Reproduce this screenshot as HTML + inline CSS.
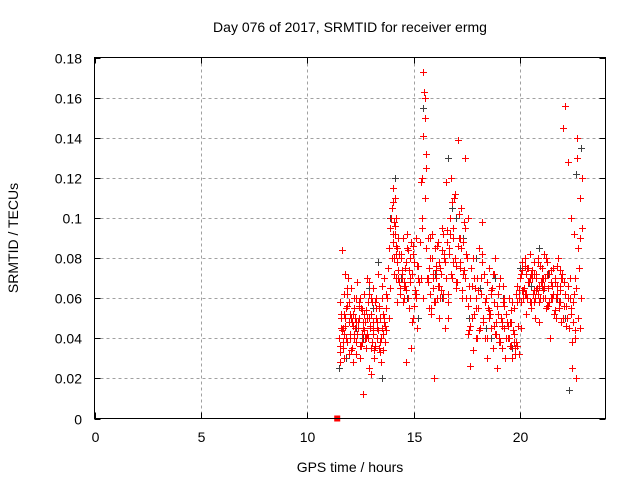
<!DOCTYPE html>
<html><head><meta charset="utf-8"><style>
html,body{margin:0;padding:0;background:#fff;}
svg{display:block;font-family:"Liberation Sans",sans-serif;}
</style></head><body>
<svg id="chart" width="640" height="480" viewBox="0 0 640 480">
<rect width="640" height="480" fill="#fff"/>
<g id="grid"></g>
<g id="blk"></g>
<g id="red"></g>
<rect x="94.5" y="57.5" width="511" height="361" fill="none" stroke="#000" stroke-width="1"/>
<g id="ticks"></g>
<text x="350" y="32" font-size="14" text-anchor="middle">Day 076 of 2017, SRMTID for receiver ermg</text>
<text x="350" y="472" font-size="14" text-anchor="middle">GPS time / hours</text>
<text transform="translate(18,238) rotate(-90)" font-size="14" text-anchor="middle">SRMTID / TECUs</text>
</svg>
<script>
const xTicks=[0,5,10,15,20];
const yTicks=[0,0.02,0.04,0.06,0.08,0.1,0.12,0.14,0.16,0.18];
const yTickLabels=["0","0.02","0.04","0.06","0.08","0.1","0.12","0.14","0.16","0.18"];
const redHours=[11.5,11.55,11.6,11.62,11.65,11.7,11.72,11.75,11.8,11.85,11.9,11.95,12.0,12.05,12.1,12.12,12.15,12.2,12.25,12.3,12.35,12.4,12.45,12.5,12.55,12.6,12.65,12.7,12.75,12.8,12.85,12.9,12.95,13.0,13.05,13.1,13.15,13.2,13.25,13.3,13.35,13.4,13.45,13.5,13.55,13.6,13.65,13.7,
11.52,11.58,11.68,11.78,11.88,11.98,12.08,12.18,12.28,12.38,12.48,12.58,12.68,12.78,12.88,12.98,13.08,13.18,13.28,13.38,13.48,13.58,13.68,
11.55,11.7,11.85,12.0,12.2,12.4,12.6,12.8,13.0,13.2,13.4,13.6,12.3,12.5,12.9,13.1,13.5,12.7,
13.75,13.8,13.85,13.9,13.95,14.0,14.02,14.05,14.08,14.1,14.12,14.15,14.18,14.2,14.22,14.25,14.28,14.3,13.82,13.88,13.92,13.98,14.03,14.07,14.13,14.17,14.23,14.27,
14.35,14.4,14.45,14.5,14.55,14.6,14.65,14.7,14.75,14.8,14.85,14.9,14.95,15.0,15.05,15.1,15.15,15.2,14.38,14.48,14.58,14.68,14.78,14.88,14.98,15.08,15.18,14.42,14.62,14.82,15.02,14.52,14.72,14.92,15.12,
15.3,15.35,15.38,15.4,15.42,15.45,15.48,15.5,15.52,15.55,15.58,15.6,15.35,15.4,15.45,15.5,15.55,
15.65,15.7,15.75,15.8,15.85,15.9,15.95,16.0,16.05,16.1,16.15,16.2,16.25,16.3,16.35,16.4,16.45,15.68,15.78,15.88,15.98,16.08,16.18,16.28,16.38,15.72,15.92,16.12,16.32,15.82,16.02,16.22,16.42,
16.5,16.55,16.6,16.65,16.7,16.75,16.8,16.85,16.9,16.95,17.0,17.05,17.1,17.15,17.2,17.25,17.3,17.35,17.4,17.45,16.52,16.62,16.72,16.82,16.92,17.02,17.12,17.22,17.32,17.42,16.58,16.78,16.98,17.18,17.38,
17.5,17.55,17.6,17.65,17.7,17.75,17.8,17.85,17.9,17.95,18.0,18.05,18.1,18.15,18.2,18.25,18.3,18.35,18.4,18.45,18.5,18.55,18.6,18.65,18.7,18.75,18.8,18.85,18.9,18.95,19.0,19.05,19.1,19.15,19.2,19.25,19.3,19.35,19.4,19.45,19.5,19.55,19.6,19.65,19.7,19.75,
17.52,17.62,17.72,17.82,17.92,18.02,18.12,18.22,18.32,18.42,18.52,18.62,18.72,18.82,18.92,19.02,19.12,19.22,19.32,19.42,19.52,19.62,19.72,17.58,17.78,17.98,18.18,18.38,18.58,18.78,18.98,19.18,19.38,19.58,
19.8,19.85,19.9,19.95,20.0,20.05,20.1,20.15,20.2,20.25,20.3,20.35,20.4,20.45,20.5,20.55,20.6,20.65,20.7,20.75,20.8,20.85,20.9,20.95,21.0,21.05,21.1,21.15,21.2,21.25,21.3,21.35,21.4,21.45,21.5,21.55,21.6,21.65,21.7,21.75,21.8,21.85,21.9,21.95,
19.82,19.92,20.02,20.12,20.22,20.32,20.42,20.52,20.62,20.72,20.82,20.92,21.02,21.12,21.22,21.32,21.42,21.52,21.62,21.72,21.82,21.92,20.08,20.28,20.48,20.68,20.88,21.08,21.28,21.48,21.68,21.88,
22.0,22.05,22.1,22.15,22.2,22.25,22.3,22.35,22.4,22.45,22.5,22.55,22.6,22.65,22.7,22.75,22.8,22.85,22.9,22.02,22.12,22.22,22.32,22.42,22.52,22.62,22.72,22.82,22.88,22.78,22.68,22.58,22.48,22.38];
const redValues=[0.040,0.033,0.050,0.084,0.045,0.062,0.030,0.072,0.055,0.038,0.070,0.048,0.042,0.065,0.035,0.052,0.028,0.060,0.045,0.038,0.068,0.050,0.030,0.055,0.042,0.012,0.062,0.048,0.035,0.070,0.058,0.025,0.045,0.052,0.038,0.065,0.030,0.055,0.045,0.072,0.035,0.050,0.028,0.060,0.042,0.048,0.038,0.055,
0.058,0.045,0.035,0.050,0.062,0.040,0.048,0.055,0.032,0.045,0.060,0.038,0.052,0.042,0.068,0.035,0.048,0.058,0.040,0.055,0.045,0.050,0.062,
0.028,0.042,0.065,0.052,0.040,0.058,0.045,0.050,0.022,0.060,0.033,0.070,0.048,0.036,0.062,0.044,0.066,0.040,
0.060,0.075,0.085,0.095,0.105,0.088,0.115,0.098,0.080,0.110,0.092,0.070,0.100,0.085,0.078,0.090,0.068,0.082,0.050,0.065,0.100,0.080,0.108,0.072,0.096,0.086,0.058,0.074,
0.065,0.080,0.070,0.090,0.060,0.075,0.028,0.085,0.055,0.068,0.088,0.072,0.050,0.078,0.062,0.090,0.045,0.070,0.082,0.058,0.066,0.092,0.074,0.035,0.086,0.060,0.076,0.072,0.064,0.080,0.056,0.068,0.084,0.048,0.062,0.088,0.070,
0.095,0.120,0.141,0.173,0.163,0.150,0.110,0.085,0.132,0.070,0.118,0.100,0.060,0.160,0.125,0.090,0.075,
0.080,0.055,0.092,0.065,0.020,0.085,0.070,0.060,0.088,0.050,0.075,0.095,0.062,0.082,0.045,0.068,0.090,0.072,0.058,0.086,0.078,0.064,0.092,0.055,0.070,0.066,0.084,0.052,0.076,0.060,0.080,0.070,0.088,0.050,
0.085,0.100,0.120,0.070,0.095,0.110,0.080,0.065,0.139,0.090,0.075,0.105,0.060,0.088,0.098,0.070,0.082,0.118,0.058,0.092,0.078,0.112,0.068,0.102,0.085,0.072,0.095,0.062,0.108,0.076,0.090,0.130,0.080,0.100,0.066,
0.060,0.075,0.050,0.080,0.065,0.040,0.070,0.055,0.085,0.045,0.062,0.098,0.050,0.072,0.040,0.060,0.030,0.055,0.075,0.045,0.065,0.035,0.058,0.080,0.048,0.025,0.062,0.040,0.070,0.050,0.035,0.058,0.045,0.030,0.052,0.040,0.060,0.036,0.048,0.030,0.044,0.055,0.035,0.042,0.026,0.050,
0.070,0.055,0.064,0.045,0.078,0.058,0.068,0.050,0.062,0.072,0.042,0.056,0.066,0.046,0.060,0.052,0.040,0.048,0.058,0.038,0.044,0.034,0.040,0.082,0.060,0.052,0.072,0.038,0.066,0.048,0.054,0.062,0.036,0.046,0.032,
0.070,0.058,0.078,0.065,0.080,0.072,0.060,0.075,0.068,0.082,0.055,0.070,0.062,0.078,0.050,0.072,0.065,0.080,0.058,0.068,0.075,0.060,0.082,0.070,0.055,0.078,0.065,0.072,0.040,0.068,0.060,0.075,0.052,0.070,0.062,0.080,0.055,0.066,0.048,0.072,0.058,0.064,0.045,0.060,
0.062,0.075,0.068,0.058,0.072,0.064,0.078,0.060,0.070,0.066,0.080,0.056,0.074,0.062,0.068,0.076,0.058,0.070,0.064,0.052,0.072,0.060,0.048,0.070,0.056,0.066,0.060,0.074,0.050,0.068,0.062,0.056,
0.050,0.060,0.045,0.070,0.055,0.025,0.092,0.040,0.065,0.130,0.050,0.075,0.110,0.060,0.095,0.145,0.156,0.128,0.060,0.038,0.062,0.020,0.085,0.045,0.120,0.090,0.140,0.070,0.048,0.100,0.080,0.056,0.036,0.072];
const redHours2=[11.53,11.63,11.73,11.83,11.93,12.03,12.13,12.23,12.33,12.43,12.53,12.63,12.73,12.83,12.93,13.03,13.13,13.23,13.33,13.43,13.53,13.63,11.57,11.67,11.77,11.87,11.97,12.07,12.17,12.27,12.37,12.47,12.57,12.67,12.77,12.87,12.97,13.07,13.17,13.27,13.37,13.47,13.57,13.67,
14.04,14.14,14.24,14.34,14.44,14.54,14.64,14.74,14.84,14.94,15.04,15.14,15.24,15.66,15.76,15.86,15.96,16.06,16.16,16.26,16.36,16.46,16.56,16.66,16.76,16.86,16.96,17.06,17.16,17.26,17.36,17.46,
17.54,17.64,17.74,17.84,17.94,18.04,18.14,18.24,18.34,18.44,18.54,18.64,18.74,18.84,18.94,19.04,19.14,19.24,19.34,19.44,19.54,19.64,19.74,19.78,19.68,19.48,
19.84,19.94,20.04,20.14,20.24,20.34,20.44,20.54,20.64,20.74,20.84,20.94,21.04,21.14,21.24,21.34,21.44,21.54,21.64,21.74,21.84,21.94,20.06,20.26,20.46,20.66,20.86,21.06,21.26,21.46,21.66,21.86,22.06,22.16,22.26,22.36,22.46,22.56];
const redValues2=[0.036,0.044,0.052,0.040,0.058,0.034,0.046,0.050,0.042,0.056,0.036,0.048,0.054,0.040,0.046,0.058,0.034,0.050,0.044,0.038,0.052,0.046,0.052,0.038,0.046,0.056,0.032,0.050,0.042,0.060,0.048,0.036,0.054,0.044,0.040,0.050,0.060,0.042,0.036,0.048,0.056,0.040,0.034,0.044,
0.092,0.082,0.070,0.062,0.074,0.066,0.078,0.060,0.070,0.082,0.064,0.076,0.068,0.070,0.062,0.080,0.058,0.074,0.066,0.072,0.060,0.078,0.094,0.082,0.072,0.090,0.068,0.086,0.078,0.064,0.074,0.060,
0.056,0.046,0.066,0.052,0.060,0.044,0.070,0.048,0.058,0.040,0.054,0.064,0.046,0.042,0.052,0.038,0.048,0.056,0.040,0.046,0.036,0.044,0.032,0.038,0.042,0.040,
0.066,0.060,0.072,0.064,0.076,0.068,0.058,0.074,0.064,0.070,0.062,0.076,0.066,0.060,0.072,0.058,0.068,0.062,0.054,0.066,0.058,0.070,0.074,0.062,0.070,0.058,0.066,0.064,0.056,0.060,0.050,0.064,0.056,0.046,0.066,0.052,0.058,0.044];
const blackHours=[11.5,11.8,12.3,12.9,13.3,13.5,13.9,14.1,14.2,14.7,15.2,15.45,15.5,16.0,16.6,16.8,17.0,17.3,17.6,17.9,18.1,18.4,18.8,19.2,19.6,20.0,20.5,20.9,21.3,21.7,22.1,22.3,22.6,22.85,12.6,13.1,14.4,16.3,18.6,21.1];
const blackValues=[0.025,0.030,0.045,0.065,0.078,0.020,0.100,0.120,0.085,0.060,0.050,0.155,0.110,0.072,0.130,0.105,0.100,0.090,0.050,0.080,0.065,0.045,0.070,0.060,0.035,0.075,0.066,0.085,0.072,0.060,0.050,0.014,0.122,0.135,0.040,0.055,0.070,0.060,0.040,0.065];
const zeroHours=[11.4];
const zeroValues=[0];

const X0=94.5,X1=605.5,Y0=418.5,Y1=57.5;
const xs=h=>X0+(h/24)*(X1-X0);
const ys=v=>Y0-(v/0.18)*(Y0-Y1);
const NS="http://www.w3.org/2000/svg";
function mk(tag,attrs,parent){const e=document.createElementNS(NS,tag);for(const k in attrs)e.setAttribute(k,attrs[k]);parent.appendChild(e);return e;}
const grid=document.getElementById('grid'),ticks=document.getElementById('ticks');
xTicks.forEach((t,i)=>{const x=Math.round(xs(t))+0.5;
 if(t>0){const g=mk('line',{x1:x,x2:x,y1:Y1,y2:Y0,stroke:'#a0a0a0','stroke-dasharray':'3,3'},grid);}
 const a=mk('line',{x1:x,x2:x,y1:Y0,y2:Y0-6,stroke:'#000'},ticks);
 const b=mk('line',{x1:x,x2:x,y1:Y1,y2:Y1+6,stroke:'#000'},ticks);
 const l=mk('text',{x:x,y:442,'font-size':14,'text-anchor':'middle'},ticks);l.textContent=String(t);});
yTicks.forEach((t,i)=>{const y=Math.round(ys(t))+0.5;
 if(t>0&&t<0.18){const g=mk('line',{x1:X0,x2:X1,y1:y,y2:y,stroke:'#a0a0a0','stroke-dasharray':'3,3'},grid);}
 const a=mk('line',{x1:X0,x2:X0+6,y1:y,y2:y,stroke:'#000'},ticks);
 const b=mk('line',{x1:X1,x2:X1-6,y1:y,y2:y,stroke:'#000'},ticks);
 const l=mk('text',{x:82,y:y+5,'font-size':14,'text-anchor':'end'},ticks);l.textContent=yTickLabels[i];});
function plus(g,h,v,c){const x=Math.round(xs(h))+0.5,y=Math.round(ys(v))+0.5;
 const p=mk('path',{d:`M${x-3.5} ${y}H${x+3.5}M${x} ${y-3.5}V${y+3.5}`,stroke:c,'stroke-width':1,fill:'none'},g);
 
 }
const blk=document.getElementById('blk'),red=document.getElementById('red');
blackHours.forEach((h,i)=>plus(blk,h,blackValues[i],'#404040'));
redHours.forEach((h,i)=>plus(red,h,redValues[i],'#ff0000'));
redHours2.forEach((h,i)=>plus(red,h,redValues2[i],'#ff0000'));
zeroHours.forEach((h,i)=>{const r=mk('rect',{x:xs(h)-3,y:ys(zeroValues[i])-3,width:6,height:6,fill:'#ff0000'},red);});
</script>
</body></html>
